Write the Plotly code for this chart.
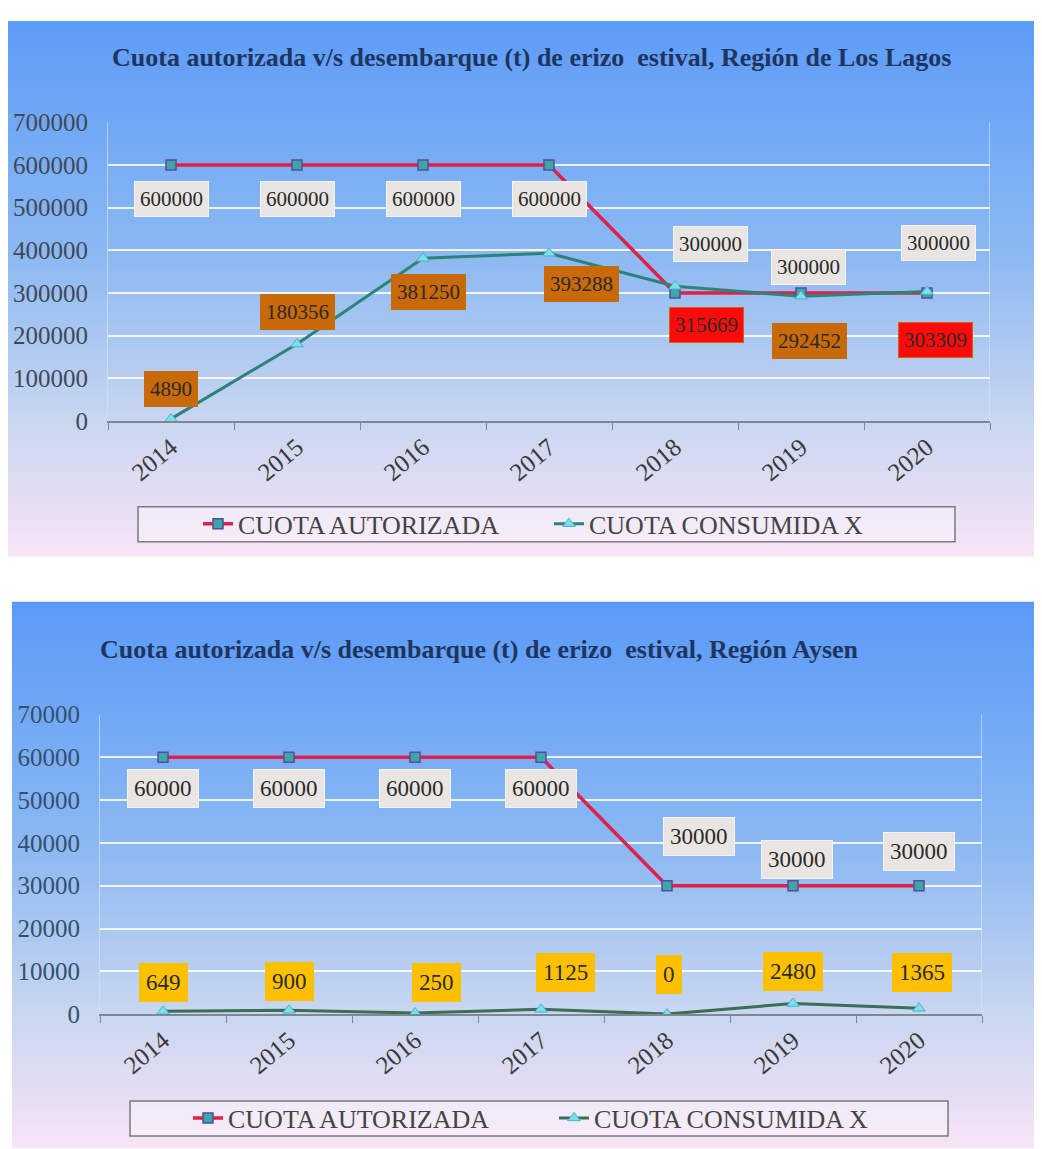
import plotly.graph_objects as go

# ---------------- data ----------------
years = ["2014", "2015", "2016", "2017", "2018", "2019", "2020"]
lagos_autorizada = [600000, 600000, 600000, 600000, 300000, 300000, 300000]
lagos_consumida = [4890, 180356, 381250, 393288, 315669, 292452, 303309]
aysen_autorizada = [60000, 60000, 60000, 60000, 30000, 30000, 30000]
aysen_consumida = [649, 900, 250, 1125, 0, 2480, 1365]
lagos_ticks = [0, 100000, 200000, 300000, 400000, 500000, 600000, 700000]
aysen_ticks = [0, 10000, 20000, 30000, 40000, 50000, 60000, 70000]
title_lagos = "Cuota autorizada v/s desembarque (t) de erizo  estival, Región de Los Lagos"
title_aysen = "Cuota autorizada v/s desembarque (t) de erizo  estival, Región Aysen"
name_a = "CUOTA AUTORIZADA"
name_c = "CUOTA CONSUMIDA X"

# ---------------- styles / positions ----------------
MX = 8                          # horizontal page offset
OY, SY = 20.5, 0.978            # observed vertical page offset / scale of the capture
W, H = 1034, 1156
FONT = "Liberation Serif"
TXT = "#3a3a3a"

def px(x):
    return (x - MX) / W

def py(y):
    return 1 - ((y - OY) / SY) / H

# label offsets (pixels) relative to each point
lagos_a_off = [(0, -34), (0, -34), (0, -34), (0, -34), (35, 49), (7, 26), (11, 50)]
lagos_c_off = [(0, 30), (0, 32), (5, -34), (32, -31), (31, -39), (8, -45), (8, -48)]
lagos_c_bg = ["#C8690A", "#C8690A", "#C8690A", "#C8690A", "#FF0A0A", "#C8690A", "#FF0A0A"]
aysen_a_off = [(0, -31), (0, -31), (0, -31), (0, -31), (32, 49), (4, 26), (0, 34)]
aysen_c_off = [(0, 29), (0, 29), (21, 31), (24, 37), (2, 40), (0, 32), (3, 36)]

fig = go.Figure()

# gradient backgrounds
stops = [(0.0, (90, 154, 248)), (0.45, (140, 185, 242)), (0.75, (200, 214, 240)), (1.0, (248, 228, 246))]

def grad(t):
    for i in range(len(stops) - 1):
        t0, c0 = stops[i]
        t1, c1 = stops[i + 1]
        if t0 <= t <= t1:
            f = (t - t0) / (t1 - t0)
            return "rgb(%d,%d,%d)" % tuple(round(a + (b - a) * f) for a, b in zip(c0, c1))
    return "rgb(%d,%d,%d)" % stops[-1][1]

shapes = []

def add_bg(x0, y0, x1, y1, n=90):
    for i in range(n):
        ya = y0 + (y1 - y0) * i / n
        yb = min(y0 + (y1 - y0) * (i + 1) / n + 0.8, y1)
        top, bot = py(ya), py(yb)
        if bot >= 1:
            continue
        shapes.append(dict(type="rect", xref="paper", yref="paper", x0=max(px(x0), 0), x1=min(px(x1), 1),
                           y0=max(bot, 0), y1=min(top, 1), fillcolor=grad((i + 0.5) / n),
                           line=dict(width=0), layer="below"))

add_bg(7, 8, 1042, 557)
add_bg(12, 602, 1042, 1149)

# legend boxes
for (x0, y0, x1, y1) in [(138, 507, 955, 542), (130, 1102, 948, 1137)]:
    shapes.append(dict(type="rect", xref="paper", yref="paper", x0=px(x0), x1=px(x1),
                       y0=py(y1), y1=py(y0), fillcolor="rgba(255,255,255,0.35)",
                       line=dict(color="#7a7a80", width=1.5), layer="below"))

# traces
def add_pair(xa, ya, a_vals, c_vals, legend, c_line):
    fig.add_trace(go.Scatter(x=years, y=a_vals, name=name_a, mode="lines+markers",
                             xaxis=xa, yaxis=ya, legend=legend,
                             line=dict(color="#E0204A", width=3.5),
                             marker=dict(symbol="square", size=10, color="#3AA8A8",
                                         line=dict(color="#5A4A9A", width=1.5))))
    fig.add_trace(go.Scatter(x=years, y=c_vals, name=name_c, mode="lines+markers",
                             xaxis=xa, yaxis=ya, legend=legend,
                             line=dict(color=c_line, width=3),
                             marker=dict(symbol="triangle-up", size=11, color="#80DDEB",
                                         line=dict(color="#49B3C4", width=1))))

add_pair("x", "y", lagos_autorizada, lagos_consumida, "legend", "#2E8278")
add_pair("x2", "y2", aysen_autorizada, aysen_consumida, "legend2", "#3A6E55")

annotations = []

def labels(xref, yref, vals, offs, bgs, border, size, pad):
    for i, (v, (dx, dy), bg) in enumerate(zip(vals, offs, bgs)):
        annotations.append(dict(x=i, y=v, xref=xref, yref=yref, text=str(v), showarrow=False,
                                xanchor="center", yanchor="middle",
                                xshift=dx, yshift=dy, bgcolor=bg, bordercolor=border,
                                borderwidth=1, borderpad=pad,
                                font=dict(family=FONT, size=size, color="#2a2a2a")))

labels("x", "y", lagos_autorizada, lagos_a_off, ["#E8E5E2"] * 7, "#F4F4F4", 21, 5)
labels("x", "y", lagos_consumida, lagos_c_off, lagos_c_bg, lagos_c_bg[0], 21, 5)
labels("x2", "y2", aysen_autorizada, aysen_a_off, ["#E8E5E2"] * 7, "#F4F4F4", 23, 6)
labels("x2", "y2", aysen_consumida, aysen_c_off, ["#FFC000"] * 7, "#FFC000", 23, 6)

annotations.append(dict(text="<b>" + title_lagos + "</b>", xref="paper", yref="paper",
                        x=px(531), y=py(57), showarrow=False, xanchor="center", yanchor="middle",
                        font=dict(family=FONT, size=26, color="#1F3560")))
annotations.append(dict(text="<b>" + title_aysen + "</b>", xref="paper", yref="paper",
                        x=px(98), y=py(650), showarrow=False, xanchor="left", yanchor="middle",
                        font=dict(family=FONT, size=26, color="#1F3560")))

# right edge lines of plot areas
for xr, yr, top in [("x", "y", 700000), ("x2", "y2", 70000)]:
    shapes.append(dict(type="line", xref=xr, yref=yr, x0=6.5, x1=6.5, y0=0, y1=top,
                       line=dict(color="rgba(215,230,255,0.8)", width=1.5)))

xcommon = dict(type="category", tickangle=-40, ticks="outside", tickson="boundaries",
               ticklen=7, tickcolor="#7f8796", showline=True, linecolor="#7f8796", linewidth=2,
               showgrid=False, range=[-0.5, 6.5], fixedrange=True,
               tickfont=dict(family=FONT, size=25, color=TXT))
ycommon = dict(showgrid=True, gridcolor="rgba(255,255,255,0.85)", gridwidth=1.5,
               zeroline=False, showline=True, linecolor="rgba(210,225,250,0.7)",
               ticks="", ticklabelstandoff=14,
               tickfont=dict(family=FONT, size=25, color="#404858"))

fig.update_layout(
    width=W, height=H, margin=dict(l=0, r=0, t=0, b=0),
    paper_bgcolor="white", plot_bgcolor="rgba(0,0,0,0)",
    showlegend=True,
    xaxis=dict(xcommon, domain=[px(108), px(990)], anchor="y"),
    yaxis=dict(ycommon, domain=[py(421), py(122)], range=[0, 700000],
               tickvals=lagos_ticks, ticktext=[str(t) for t in lagos_ticks], anchor="x"),
    xaxis2=dict(xcommon, domain=[px(100), px(982)], anchor="y2"),
    yaxis2=dict(ycommon, domain=[py(1015), py(715)], range=[0, 70000],
                tickvals=aysen_ticks, ticktext=[str(t) for t in aysen_ticks], anchor="x2",
                tickfont=dict(family=FONT, size=25, color="#34506e")),
    legend=dict(orientation="h", x=px(198), y=py(524), xanchor="left", yanchor="middle",
                bgcolor="rgba(0,0,0,0)", entrywidth=306, entrywidthmode="pixels",
                font=dict(family=FONT, size=26, color="#444444")),
    legend2=dict(orientation="h", x=px(188), y=py(1119), xanchor="left", yanchor="middle",
                 bgcolor="rgba(0,0,0,0)", entrywidth=321, entrywidthmode="pixels",
                 font=dict(family=FONT, size=26, color="#444444")),
    shapes=shapes, annotations=annotations,
)

fig.write_html("out.html")
